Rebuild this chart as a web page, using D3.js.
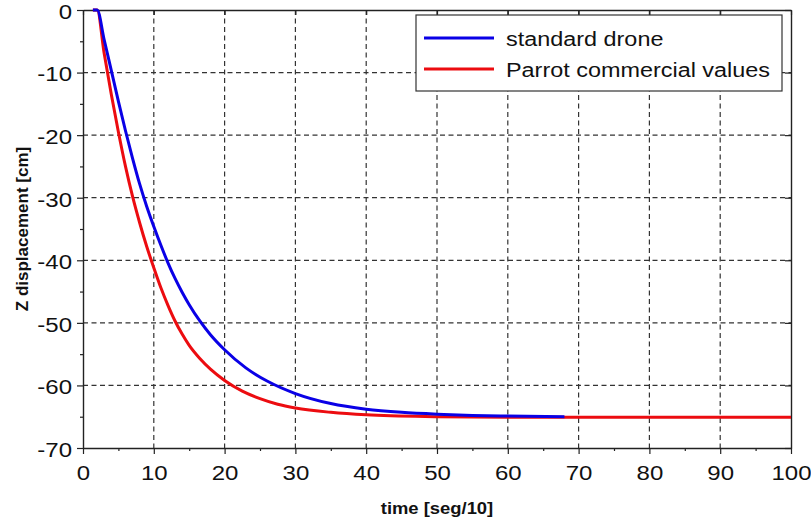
<!DOCTYPE html>
<html>
<head>
<meta charset="utf-8">
<script src="https://cdn.jsdelivr.net/npm/d3@7"></script>
<style>
  body { margin: 0; background: #fff; }
  svg text { font-family: "Liberation Sans", Arial, sans-serif; fill: #111; }
</style>
</head>
<body>
<div id="chart"></div>
<script>
// Values
const blueTime = [1.4, 2, 3, 4, 5, 6, 7, 8, 9, 10, 11, 12, 13, 14, 15, 16.5, 18, 20, 23, 26, 30, 35, 40, 45, 50, 55, 60, 68];
const blueZ    = [0, 0, -4.8, -9.7, -14.6, -19.3, -23.7, -27.8, -31.4, -34.6, -37.6, -40.4, -42.9, -45.1, -47.1, -49.7, -51.9, -54.3, -57.2, -59.3, -61.3, -62.9, -63.8, -64.3, -64.6, -64.8, -64.9, -65.0];
const redTime  = [1.4, 2, 3, 4, 5, 6, 7, 8, 9, 10, 11, 12, 13, 14, 15, 16.5, 18, 20, 22.5, 25, 27.5, 30, 35, 40, 50, 60, 70, 80, 90, 100];
const redZ     = [0, 0, -7, -13.5, -19.5, -25, -29.8, -34, -37.8, -41.2, -44.4, -47.2, -49.7, -51.8, -53.6, -55.7, -57.4, -59.2, -60.9, -62.1, -63, -63.6, -64.3, -64.7, -65.0, -65.1, -65.1, -65.1, -65.1, -65.1];
const seriesNames = ["standard drone", "Parrot commercial values"];
const seriesColors = ["#0a00e6", "#ec0c10"];
const xTicks = [0, 10, 20, 30, 40, 50, 60, 70, 80, 90, 100];
const xMinor = [5, 15, 25, 35, 45, 55, 65, 75, 85, 95];
const yTicks = [0, -10, -20, -30, -40, -50, -60, -70];
const yMinor = [-5, -15, -25, -35, -45, -55, -65];

const W = 811, H = 521;
const margin = {top: 10, right: 20, bottom: 73, left: 83};
const width = W - margin.left - margin.right;
const height = H - margin.top - margin.bottom;

const svg = d3.select("#chart").append("svg")
    .attr("width", W).attr("height", H);
const g = svg.append("g")
    .attr("transform", `translate(${margin.left},${margin.top})`);

const x = d3.scaleLinear().domain([0, 100]).range([0, width]);
const y = d3.scaleLinear().domain([-70, 0]).range([height, 0]);

// widen glyphs horizontally like the reference
function stretch(sel, k) {
    sel.each(function() {
        const w = this.getComputedTextLength();
        d3.select(this).attr("textLength", w * k).attr("lengthAdjust", "spacingAndGlyphs");
    });
}

// grid
g.append("g").selectAll("line")
    .data(xTicks.slice(1, -1))
    .join("line")
    .attr("x1", d => x(d)).attr("x2", d => x(d))
    .attr("y1", 0).attr("y2", height)
    .attr("stroke", "#333").attr("stroke-width", 1.2).attr("stroke-dasharray", "5,3.5");
g.append("g").selectAll("line")
    .data(yTicks.slice(1, -1))
    .join("line")
    .attr("y1", d => y(d)).attr("y2", d => y(d))
    .attr("x1", 0).attr("x2", width)
    .attr("stroke", "#333").attr("stroke-width", 1.2).attr("stroke-dasharray", "5,3.5");

// minor ticks
g.append("g").attr("transform", `translate(0,${height})`)
    .call(d3.axisBottom(x).tickValues(xMinor).tickSize(3).tickFormat(""))
    .call(a => a.select(".domain").remove());
g.append("g")
    .call(d3.axisLeft(y).tickValues(yMinor).tickSize(3).tickFormat(""))
    .call(a => a.select(".domain").remove());

// top and right frame with inward ticks
g.append("g")
    .call(d3.axisTop(x).tickValues(xTicks).tickSize(-5).tickSizeOuter(0).tickFormat(""));
g.append("g").attr("transform", `translate(${width},0)`)
    .call(d3.axisRight(y).tickValues(yTicks).tickSize(-6).tickSizeOuter(0).tickFormat(""));

// main axes
const xAxis = g.append("g").attr("transform", `translate(0,${height})`)
    .call(d3.axisBottom(x).tickValues(xTicks).tickSize(6).tickSizeOuter(0).tickPadding(12)
        .tickFormat(d => String(d)));
const yAxis = g.append("g")
    .call(d3.axisLeft(y).tickValues(yTicks).tickSize(6).tickSizeOuter(0).tickPadding(5)
        .tickFormat(d => String(d)));

g.selectAll(".domain").attr("stroke", "#222").attr("stroke-width", 1.4);
g.selectAll(".tick line").attr("stroke", "#222").attr("stroke-width", 1.2);

xAxis.selectAll("text").style("font-size", "20px").attr("fill", "#111");
yAxis.selectAll("text").style("font-size", "20px").attr("fill", "#111").attr("dy", "0.42em");
stretch(xAxis.selectAll("text"), 1.2);
stretch(yAxis.selectAll("text"), 1.2);

// curves
const line = d3.line()
    .x(d => x(d[0]))
    .y(d => y(d[1]))
    .curve(d3.curveMonotoneX);

const blueData = blueTime.map((t, i) => [t, blueZ[i]]);
const redData = redTime.map((t, i) => [t, redZ[i]]);

g.append("path").datum(redData)
    .attr("d", line).attr("fill", "none")
    .attr("stroke", seriesColors[1]).attr("stroke-width", 3);
g.append("path").datum(blueData)
    .attr("d", line).attr("fill", "none")
    .attr("stroke", seriesColors[0]).attr("stroke-width", 3);

// axis titles
const xTitle = svg.append("text")
    .attr("x", margin.left + width / 2)
    .attr("y", 514)
    .attr("text-anchor", "middle")
    .style("font-size", "16px")
    .style("font-weight", "bold")
    .text("time [seg/10]");
stretch(xTitle, 1.15);

svg.append("text")
    .attr("transform", `translate(28,${margin.top + height / 2}) rotate(-90)`)
    .attr("text-anchor", "middle")
    .style("font-size", "17px")
    .style("font-weight", "bold")
    .text("Z displacement [cm]");

// legend
const legend = svg.append("g").attr("transform", "translate(416,15)");
legend.append("rect")
    .attr("width", 366).attr("height", 76)
    .attr("fill", "#fff").attr("stroke", "#333").attr("stroke-width", 1.2);
seriesNames.forEach((name, i) => {
    const yy = 23 + i * 31;
    legend.append("line")
        .attr("x1", 8).attr("x2", 78)
        .attr("y1", yy).attr("y2", yy)
        .attr("stroke", seriesColors[i]).attr("stroke-width", 3);
    const t = legend.append("text")
        .attr("x", 90).attr("y", yy + 8)
        .style("font-size", "20px")
        .text(name);
    stretch(t, 1.17);
});
</script>
</body>
</html>
